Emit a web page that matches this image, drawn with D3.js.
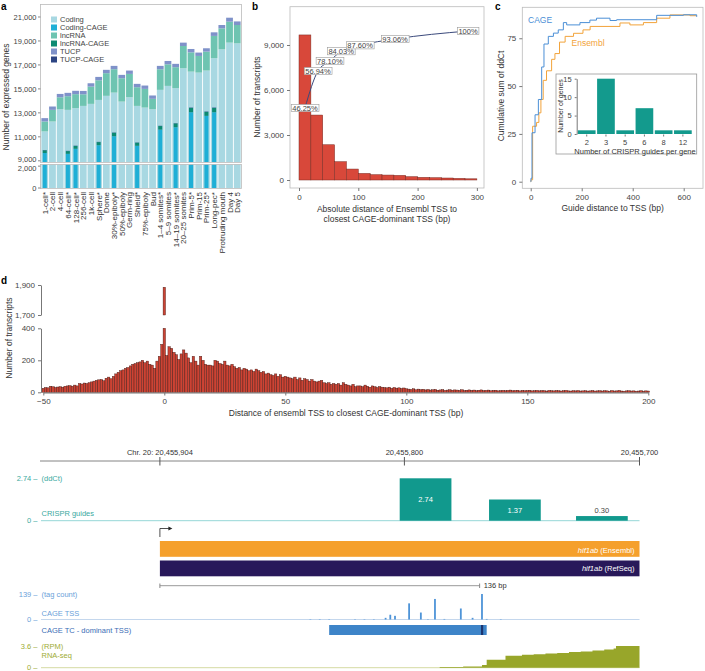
<!DOCTYPE html>
<html>
<head>
<meta charset="utf-8">
<script src="https://cdn.jsdelivr.net/npm/d3@7"></script>
<style>
  body { margin: 0; background: #fff; }
  text { font-family: "Liberation Sans", Arial, sans-serif; }
</style>
</head>
<body>
<svg id="fig" width="705" height="671"></svg>
<script>
// ---- a: expressed genes per stage ----
var stages = ["1-cell*", "2-cell", "4-cell", "64-cell*", "128-cell*", "256-cell", "1k-cell", "Sphere*", "Dome",
  "30%-epiboly*", "50%-epiboly", "Germ-ring", "Shield*", "75%-epiboly", "Bud", "1\u20134 somites*", "5\u20139 somites",
  "14\u201319 somites*", "20\u201325 somites", "Prim-5*", "Prim-15", "Prim-25*", "Long-pec*", "Protruding mouth", "Day 4", "Day 5"];
var coding = [11450, 12280, 13300, 13250, 13390, 13580, 13750, 14080, 14420, 14690, 13940, 14300, 13580, 13440, 13300,
  14920, 15250, 15060, 16720, 16440, 16360, 16530, 17560, 18300, 18860, 18800];
var lncRNA = [830, 970, 1000, 1140, 1170, 970, 1440, 1640, 1890, 1950, 1950, 1950, 1560, 1560, 870,
  1720, 1800, 1750, 1860, 1610, 1390, 1580, 1860, 1750, 1750, 1530];
var tucp = [280, 280, 280, 280, 280, 280, 280, 280, 280, 280, 280, 280, 280, 280, 280,
  280, 280, 280, 280, 280, 280, 280, 300, 280, 330, 300];
var codingCage = [9650, 0, 0, 9580, 10000, 0, 0, 10300, 0, 11050, 0, 0, 10250, 0, 0,
  11600, 0, 11800, 0, 13050, 0, 12750, 13050, 0, 0, 0];
var lncCage = [230, 0, 0, 230, 240, 0, 0, 260, 0, 290, 0, 0, 260, 0, 0,
  300, 0, 320, 0, 360, 0, 330, 360, 0, 0, 0];
var tucpCage = [20, 0, 0, 20, 20, 0, 0, 20, 0, 20, 0, 0, 20, 0, 0,
  20, 0, 20, 0, 30, 0, 30, 30, 0, 0, 0];
var ticksATop = [9000, 11000, 13000, 15000, 17000, 19000, 21000];
var ticksABot = [0, 2000];

// ---- b: distance histogram ----
var binStart = [0, 20, 40, 60, 80, 100, 120, 140, 160, 180, 200, 220, 240, 260, 280];
var binCount = [9670, 4330, 2350, 1220, 730, 440, 355, 330, 310, 222, 178, 155, 133, 111, 80];
var cumBp = [10, 32, 52, 71, 103, 162, 285];
var cumPct = [46.25, 56.94, 78.10, 84.03, 87.60, 93.06, 100];

// ---- c: cumulative ddCt ----
var cageDist = [0, 1, 5, 17, 30, 43, 52, 69, 89, 108, 128, 141, 193, 232, 258, 311, 337, 494, 599, 651];
var cageSum = [0, 1.8, 25.6, 35, 43, 60, 72, 76, 77.7, 79.4, 83.2, 82, 83.2, 84.5, 85.5, 84.3, 84.7, 87, 87.3, 86.2];
var ensDist = [0, 1, 7.5, 23, 32, 40, 49, 62, 82, 95, 113, 135, 168, 205, 233, 350, 389, 442, 494, 546, 625, 651];
var ensSum = [0, 1, 29, 31, 36, 43, 53, 58, 64, 67, 73, 76, 77.6, 79.4, 81.2, 83, 82, 83.2, 85.5, 87.2, 86.8, 86.8];
var guidesPerGene = ["2", "3", "5", "6", "8", "12"];
var genesCount = [1, 15, 1, 7, 1, 1];

// ---- d: signed distance histogram, 1-bp bins from -50 to 200 ----
var distStart = -50;
var distCount = [
  25, 30, 28, 38, 35, 30, 33, 35, 32, 38,
  40, 42, 38, 45, 40, 55, 52, 58, 55, 60,
  65, 70, 75, 78, 80, 72, 88, 95, 85, 100,
  115, 125, 135, 140, 150, 155, 165, 175, 180, 185,
  190, 200, 185, 195, 175, 170, 150, 195, 225, 300,
  1885,
  230, 285, 275, 250, 235, 205, 240, 265, 245, 215,
  185, 225, 195, 170, 225, 200, 175, 170, 170, 165,
  200, 195, 180, 175, 195, 170, 165, 175, 160, 150,
  155, 140, 150, 145, 135, 140, 130, 145, 135, 125,
  130, 115, 120, 110, 105, 115, 100, 110, 95, 100,
  95, 90, 85, 95, 80, 90, 75, 85, 80, 70,
  80, 70, 65, 70, 75, 60, 55, 60, 50, 55,
  50, 55, 45, 60, 50, 45, 40, 50, 35, 40,
  40, 35, 45, 38, 32, 40, 35, 30, 36, 32,
  30, 28, 32, 25, 30, 26, 28, 24, 27, 22,
  20, 18, 22, 16, 20, 17, 19, 15, 18, 14, 16, 18, 13, 15, 17, 12, 14, 16, 13, 15,
  14, 12, 16, 11, 13, 15, 12, 14, 10, 13, 15, 11, 12, 14, 10, 12, 13, 9, 11, 12,
  10, 12, 14, 10, 11, 13, 9, 12, 10, 11, 13, 9, 10, 12, 9, 11, 10, 8, 12, 10,
  9, 11, 10, 8, 10, 12, 9, 8, 10, 9, 11, 8, 9, 10, 8, 9, 11, 8, 9, 10,
  8, 10, 9, 7, 11, 8, 9, 12, 8, 7, 9, 10, 8, 9, 7, 8, 10, 7, 9, 8];

// ---- e: hif1ab locus ----
var coordTicks = [20455904, 20455800, 20455700];
var guideFrom = [20455802, 20455764, 20455727];
var guideTo = [20455780, 20455742, 20455705];
var guideDdct = [2.74, 1.37, 0.30];
var geneFrom = 20455904, geneTo = 20455700;
var spanBp = 136;
var cagePos = [20455840, 20455836, 20455832, 20455821, 20455817, 20455813, 20455808, 20455806, 20455804, 20455798,
  20455793, 20455790, 20455787, 20455783, 20455776, 20455771, 20455767, 20455765, 20455759];
var cageTags = [2, 2, 2, 2, 2, 2, 9, 26, 20, 88, 38, 2, 112, 3, 60, 9, 139, 3, 2];
var tcFrom = 20455832, tcTo = 20455765, dominantTss = 20455767;
var rnaPos = [20455785, 20455775, 20455767, 20455765, 20455757, 20455750, 20455745, 20455740, 20455735, 20455730,
  20455725, 20455720, 20455715, 20455711, 20455710, 20455700];
var rnaRpm = [0.1, 0.2, 0.45, 1.3, 2.0, 2.15, 2.25, 2.35, 2.45, 2.6, 2.7, 2.85, 3.0, 3.2, 3.6, 3.6];

var svg = d3.select("#fig");
var defs = svg.append("defs");
var fmt = d3.format(",");

function clip(id, x, y, w, h) {
  defs.append("clipPath").attr("id", id).append("rect")
    .attr("x", x).attr("y", y).attr("width", w).attr("height", h);
}
function txt(g, x, y, s, size, fill, anchor) {
  return g.append("text").attr("x", x).attr("y", y).attr("font-size", size)
    .attr("fill", fill || "#333").attr("text-anchor", anchor || "start").text(s);
}
function styleAxis(g) {
  g.attr("font-size", 8);
  g.selectAll("text").attr("fill", "#444");
  g.selectAll("line").attr("stroke", "#777");
  g.select(".domain").attr("stroke", "#777");
}

// panel letters
[["a", 1, 10], ["b", 252, 10], ["c", 495, 10], ["d", 1, 284]].forEach(function(l) {
  txt(svg, l[1], l[2], l[0], 10, "#000").attr("font-weight", "bold");
});

// ================= a =================
var ga = svg.append("g");
var xa = d3.scaleBand().domain(stages).range([41, 241]).paddingInner(0.12).paddingOuter(0.05);
var yaTop = d3.scaleLinear().domain([8900, 22000]).range([162, 5]);
var yaBot = d3.scaleLinear().domain([0, 2150]).range([188, 164.5]);
var colA = {coding: "#a8d8e2", codingCage: "#1fafd6", lncRNA: "#6ec4b1", lncCage: "#0c8a72",
  tucp: "#7f92c9", tucpCage: "#2c4483"};

var rowsA = stages.map(function(s, i) {
  return {stage: s, coding: coding[i], lncRNA: lncRNA[i], tucp: tucp[i],
    codingCage: codingCage[i], lncCage: lncCage[i], tucpCage: tucpCage[i]};
});
var stackA = d3.stack().keys(["coding", "lncRNA", "tucp"])(rowsA);
var stackCage = d3.stack().keys(["codingCage", "lncCage", "tucpCage"])(rowsA);

clip("clipATop", 41, 5, 200, 157);
clip("clipABot", 41, 164.5, 200, 23.5);
var bw = xa.bandwidth();

[[yaTop, "clipATop"], [yaBot, "clipABot"]].forEach(function(p) {
  var y = p[0];
  var g = ga.append("g").attr("clip-path", "url(#" + p[1] + ")");
  g.append("g").selectAll("g").data(stackA).enter().append("g")
      .attr("fill", function(d) { return colA[d.key]; })
    .selectAll("rect").data(function(d) { return d; }).enter().append("rect")
      .attr("x", function(d) { return xa(d.data.stage); })
      .attr("width", bw)
      .attr("y", function(d) { return y(d[1]); })
      .attr("height", function(d) { return Math.max(0, y(d[0]) - y(d[1])); });
  g.append("g").selectAll("g").data(stackCage).enter().append("g")
      .attr("fill", function(d) { return colA[d.key]; })
    .selectAll("rect").data(function(d) { return d.filter(function(e) { return e[1] > e[0]; }); }).enter().append("rect")
      .attr("x", function(d) { return xa(d.data.stage) + bw * 0.2; })
      .attr("width", bw * 0.6)
      .attr("y", function(d) { return y(d[1]); })
      .attr("height", function(d) { return Math.max(0, y(d[0]) - y(d[1])); });
});

ga.append("rect").attr("x", 40.5).attr("y", 4.5).attr("width", 201).attr("height", 158)
  .attr("fill", "none").attr("stroke", "#bbb").attr("stroke-width", 0.8);
ga.append("rect").attr("x", 40.5).attr("y", 164.5).attr("width", 201).attr("height", 24)
  .attr("fill", "none").attr("stroke", "#bbb").attr("stroke-width", 0.8);

ticksATop.forEach(function(t) {
  txt(ga, 36.5, yaTop(t) + (t === 9000 ? 1.5 : 3), fmt(t), 7.5, "#444", "end");
  ga.append("line").attr("x1", 38).attr("x2", 40.5).attr("y1", yaTop(t)).attr("y2", yaTop(t)).attr("stroke", "#888");
});
ticksABot.forEach(function(t) {
  txt(ga, 36.5, yaBot(t) + (t === 2000 ? 4.5 : 3), fmt(t), 7.5, "#444", "end");
  ga.append("line").attr("x1", 38).attr("x2", 40.5).attr("y1", yaBot(t)).attr("y2", yaBot(t)).attr("stroke", "#888");
});

stages.forEach(function(s) {
  ga.append("text")
    .attr("transform", "translate(" + (xa(s) + bw / 2 + 3) + ",192) rotate(-90)")
    .attr("text-anchor", "end").attr("font-size", 8).attr("fill", "#333").text(s);
});

ga.append("text").attr("transform", "translate(8.5,97) rotate(-90)")
  .attr("text-anchor", "middle").attr("font-size", 8.5).attr("fill", "#333").text("Number of expressed genes");

var legA = [["Coding", "coding"], ["Coding-CAGE", "codingCage"], ["lncRNA", "lncRNA"],
  ["lncRNA-CAGE", "lncCage"], ["TUCP", "tucp"], ["TUCP-CAGE", "tucpCage"]];
legA.forEach(function(l, i) {
  ga.append("rect").attr("x", 51).attr("y", 16.5 + i * 8).attr("width", 6).attr("height", 6).attr("fill", colA[l[1]]);
  txt(ga, 60, 22 + i * 8, l[0], 7.5, "#444");
});

// ================= b =================
var gb = svg.append("g");
var xb = d3.scaleLinear().domain([-15.2, 312]).range([290, 484]);
var yb = d3.scaleLinear().domain([-533, 11553]).range([188, 6.7]);

gb.append("rect").attr("x", 290).attr("y", 6.7).attr("width", 194).attr("height", 181.3)
  .attr("fill", "none").attr("stroke", "#bbb").attr("stroke-width", 0.8);

gb.selectAll("rect.bin").data(binStart).enter().append("rect")
  .attr("x", function(d) { return xb(d); })
  .attr("width", xb(20) - xb(0))
  .attr("y", function(d, i) { return yb(binCount[i]); })
  .attr("height", function(d, i) { return yb(0) - yb(binCount[i]); })
  .attr("fill", "#d8483a").attr("stroke", "#7a2c24").attr("stroke-width", 0.5);

var axB = gb.append("g").attr("transform", "translate(290,0)")
  .call(d3.axisLeft(yb).tickValues([0, 3000, 6000, 9000]).tickSize(3).tickFormat(fmt));
axB.select(".domain").remove();
styleAxis(axB);
var axB2 = gb.append("g").attr("transform", "translate(0,188)")
  .call(d3.axisBottom(xb).tickValues([0, 100, 200, 300]).tickSize(3));
axB2.select(".domain").remove();
styleAxis(axB2);

gb.append("text").attr("transform", "translate(260,97) rotate(-90)")
  .attr("text-anchor", "middle").attr("font-size", 8.5).attr("fill", "#333").text("Number of transcripts");
txt(gb, 387, 212, "Absolute distance of Ensembl TSS to", 8.5, "#333", "middle");
txt(gb, 387, 222, "closest CAGE-dominant TSS (bp)", 8.5, "#333", "middle");

// cumulative share, on its own (non-linear) right-hand scale
var yPct = d3.scaleLinear().domain([46.25, 56.94, 78.10, 87.60, 100]).range([108, 71, 61, 45.3, 31]);
var cum = cumBp.map(function(b, i) { return {bp: b, pct: cumPct[i]}; });
gb.append("path").datum(cum)
  .attr("d", d3.line().x(function(d) { return xb(d.bp); }).y(function(d) { return yPct(d.pct); }).curve(d3.curveMonotoneX))
  .attr("fill", "none").attr("stroke", "#3b4a7c").attr("stroke-width", 1);
cum.forEach(function(d) {
  var lab = d.pct === 100 ? "100%" : d3.format(".2f")(d.pct) + "%";
  var cy = yPct(d.pct);
  var t = txt(gb, xb(d.bp), cy + 2.6, lab, 7.5, "#444", "middle");
  var bb = t.node().getBBox();
  gb.insert("rect", function() { return t.node(); })
    .attr("x", bb.x - 1).attr("y", cy - 3.6).attr("width", bb.width + 2).attr("height", 7.2)
    .attr("fill", "#fff").attr("stroke", "#999").attr("stroke-width", 0.6);
});

// ================= c =================
var gc = svg.append("g");
var xc = d3.scaleLinear().domain([-33, 675.7]).range([522.3, 703]);
var yc = d3.scaleLinear().domain([-3.45, 91.2]).range([188.3, 7.3]);

gc.append("rect").attr("x", 522.3).attr("y", 7.3).attr("width", 180.7).attr("height", 181)
  .attr("fill", "none").attr("stroke", "#bbb").attr("stroke-width", 0.8);

var stepLine = d3.line().x(function(d) { return xc(d[0]); }).y(function(d) { return yc(d[1]); }).curve(d3.curveStepAfter);
gc.append("path").datum(ensDist.map(function(d, i) { return [d, ensSum[i]]; }))
  .attr("d", stepLine).attr("fill", "none").attr("stroke", "#f2a33a").attr("stroke-width", 1);
gc.append("path").datum(cageDist.map(function(d, i) { return [d, cageSum[i]]; }))
  .attr("d", stepLine).attr("fill", "none").attr("stroke", "#4b8fd6").attr("stroke-width", 1);
txt(gc, 528, 23, "CAGE", 8.5, "#4b8fd6");
txt(gc, 571.5, 46, "Ensembl", 8.5, "#f2a33a");

var axC = gc.append("g").attr("transform", "translate(522.3,0)")
  .call(d3.axisLeft(yc).tickValues([0, 25, 50, 75]).tickSize(3));
axC.select(".domain").remove();
styleAxis(axC);
var axC2 = gc.append("g").attr("transform", "translate(0,188.3)")
  .call(d3.axisBottom(xc).tickValues([0, 200, 400, 600]).tickSize(3));
axC2.select(".domain").remove();
styleAxis(axC2);
gc.append("text").attr("transform", "translate(503.5,96) rotate(-90)")
  .attr("text-anchor", "middle").attr("font-size", 8.5).attr("fill", "#333").text("Cumulative sum of ddCt");
txt(gc, 612.7, 211, "Guide distance to TSS (bp)", 8.5, "#333", "middle");

// inset
gc.append("rect").attr("x", 556).attr("y", 74).attr("width", 140.7).attr("height", 80)
  .attr("fill", "#fff").attr("stroke", "#999").attr("stroke-width", 0.8);
var xi = d3.scaleBand().domain(guidesPerGene).range([577.3, 692.3]).paddingInner(0.08).paddingOuter(0.03);
var yi = d3.scaleLinear().domain([0, 15]).range([134, 78.7]);
gc.selectAll("rect.inb").data(guidesPerGene).enter().append("rect")
  .attr("x", function(d) { return xi(d); }).attr("width", xi.bandwidth())
  .attr("y", function(d, i) { return yi(genesCount[i]); })
  .attr("height", function(d, i) { return yi(0) - yi(genesCount[i]); })
  .attr("fill", "#139a8d");
var axI = gc.append("g").attr("transform", "translate(576.7,0)")
  .call(d3.axisLeft(yi).tickValues([0, 5, 10, 15]).tickSize(2).tickSizeOuter(0));
styleAxis(axI);
axI.attr("font-size", 7.5);
var axI2 = gc.append("g").attr("transform", "translate(0,134.5)")
  .call(d3.axisBottom(xi).tickSize(2).tickSizeOuter(0));
axI2.select(".domain").remove();
styleAxis(axI2);
axI2.attr("font-size", 7.5);
gc.append("text").attr("transform", "translate(562.5,106) rotate(-90)")
  .attr("text-anchor", "middle").attr("font-size", 7).attr("fill", "#333").text("Number of genes");
txt(gc, 635, 153.5, "Number of CRISPR guides per gene", 7.5, "#333", "middle");

// ================= d =================
var gd = svg.append("g");
var xd = d3.scaleLinear().domain([-50, 200]).range([43.3, 648.3]);
var ydLow = d3.scaleLinear().domain([0, 400]).range([392.3, 328.3]);
var ydUp = d3.scaleLinear().domain([1700, 1900]).range([315, 285]);
var rowsD = distCount.map(function(c, i) { return {d: distStart + i, n: c}; });
var bwd = xd(1) - xd(0);

gd.selectAll("rect.lo").data(rowsD).enter().append("rect")
  .attr("x", function(r) { return xd(r.d - 0.5); }).attr("width", bwd)
  .attr("y", function(r) { return ydLow(Math.min(r.n, 400)); })
  .attr("height", function(r) { return ydLow(0) - ydLow(Math.min(r.n, 400)); })
  .attr("fill", "#cc4334").attr("stroke", "#3f1511").attr("stroke-width", 0.4);
gd.selectAll("rect.hi").data(rowsD.filter(function(r) { return r.n > 1700; })).enter().append("rect")
  .attr("x", function(r) { return xd(r.d - 0.5); }).attr("width", bwd)
  .attr("y", function(r) { return ydUp(Math.min(r.n, 1900)); })
  .attr("height", function(r) { return ydUp(1700) - ydUp(Math.min(r.n, 1900)); })
  .attr("fill", "#cc4334").attr("stroke", "#3f1511").attr("stroke-width", 0.4);

var axD1 = gd.append("g").attr("transform", "translate(41,0)")
  .call(d3.axisLeft(ydLow).tickValues([0, 200, 400]).tickSize(3).tickSizeOuter(0));
styleAxis(axD1);
var axD2 = gd.append("g").attr("transform", "translate(41,0)")
  .call(d3.axisLeft(ydUp).tickValues([1700, 1900]).tickSize(3).tickSizeOuter(0).tickFormat(fmt));
styleAxis(axD2);
var axD3 = gd.append("g").attr("transform", "translate(0,392.5)")
  .call(d3.axisBottom(xd).tickValues([-50, 0, 50, 100, 150, 200]).tickSize(3).tickSizeOuter(0));
styleAxis(axD3);
gd.append("text").attr("transform", "translate(12,338) rotate(-90)")
  .attr("text-anchor", "middle").attr("font-size", 8.5).attr("fill", "#333").text("Number of transcripts");
txt(gd, 346, 415.5, "Distance of ensembl TSS to closest CAGE-dominant TSS (bp)", 8.5, "#333", "middle");

// ================= e =================
var ge = svg.append("g");
var xe = d3.scaleLinear().domain([20455955, 20455700]).range([40, 639.5]);
ge.append("line").attr("x1", xe.range()[0]).attr("x2", xe.range()[1]).attr("y1", 461).attr("y2", 461)
  .attr("stroke", "#666").attr("stroke-width", 0.8);
coordTicks.forEach(function(t, i) {
  ge.append("line").attr("x1", xe(t)).attr("x2", xe(t)).attr("y1", 457).attr("y2", 465.5).attr("stroke", "#555");
  txt(ge, xe(t), 454.5, (i === 0 ? "Chr. 20: " : "") + fmt(t), 7.5, "#333", "middle");
});

// CRISPR guides
var ycr = d3.scaleLinear().domain([0, 2.74]).range([520.7, 478.3]);
txt(ge, 37.5, ycr(2.74) + 2.5, "2.74 \u2013", 7.5, "#3aa9a0", "end");
txt(ge, 37.5, ycr(0) + 2.5, "0 \u2013", 7.5, "#3aa9a0", "end");
txt(ge, 41.5, ycr(2.74) + 2.5, "(ddCt)", 7.5, "#3aa9a0");
txt(ge, 41.5, 515.5, "CRISPR guides", 7.5, "#3aa9a0");
ge.append("line").attr("x1", 41).attr("x2", 639.5).attr("y1", ycr(0)).attr("y2", ycr(0))
  .attr("stroke", "#78cccc").attr("stroke-width", 0.8);
guideDdct.forEach(function(v, i) {
  var x0 = xe(guideFrom[i]), x1 = xe(guideTo[i]);
  ge.append("rect").attr("x", x0).attr("width", x1 - x0).attr("y", ycr(v)).attr("height", ycr(0) - ycr(v))
    .attr("fill", "#11998d");
  var inside = (ycr(0) - ycr(v)) > 12;
  txt(ge, (x0 + x1) / 2, inside ? (ycr(v) + ycr(0)) / 2 + 2.5 : ycr(v) - 3, d3.format(".2f")(v), 7.5,
    inside ? "#fff" : "#444", "middle");
});

// TSS arrow
var xt = xe(geneFrom);
ge.append("path").attr("d", "M" + xt + ",537V528.5H" + (xt + 9))
  .attr("fill", "none").attr("stroke", "#222").attr("stroke-width", 0.8);
ge.append("path").attr("d", "M" + (xt + 12.5) + ",528.5L" + (xt + 8.5) + ",526.5L" + (xt + 8.5) + ",530.5Z").attr("fill", "#222");

// transcripts
[["Ensembl", "#f5a02c", 541, 553], ["RefSeq", "#28185a", 560.5, 570.5]].forEach(function(tr) {
  ge.append("rect").attr("x", xe(geneFrom)).attr("width", xe(geneTo) - xe(geneFrom))
    .attr("y", tr[2]).attr("height", 15.8).attr("fill", tr[1]);
  var t = ge.append("text").attr("x", xe(geneTo) - 5).attr("y", tr[3]).attr("font-size", 7.5)
    .attr("fill", "#fff").attr("text-anchor", "end");
  t.append("tspan").attr("font-style", "italic").text("hif1ab");
  t.append("tspan").text(" (" + tr[0] + ")");
});

// 136 bp span from annotated TSS to CAGE-dominant TSS
var xs0 = xe(geneFrom), xs1 = xe(geneFrom - spanBp);
ge.append("line").attr("x1", xs0).attr("x2", xs1).attr("y1", 585.7).attr("y2", 585.7).attr("stroke", "#999").attr("stroke-width", 1);
[xs0, xs1].forEach(function(x) {
  ge.append("line").attr("x1", x).attr("x2", x).attr("y1", 583.5).attr("y2", 588).attr("stroke", "#888");
});
txt(ge, xs1 + 4, 588.3, spanBp + " bp", 7.5, "#333");

// CAGE TSS
var ycg = d3.scaleLinear().domain([0, 139]).range([619.5, 594]);
var cgCol = "#6a9fd9";
txt(ge, 37.5, ycg(139) + 2.5, "139 \u2013", 7.5, cgCol, "end");
txt(ge, 37.5, ycg(0) + 2.5, "0 \u2013", 7.5, cgCol, "end");
txt(ge, 41.5, ycg(139) + 2.5, "(tag count)", 7.5, cgCol);
txt(ge, 41.5, 616, "CAGE TSS", 7.5, cgCol);
ge.append("line").attr("x1", 41).attr("x2", 639.5).attr("y1", ycg(0)).attr("y2", ycg(0))
  .attr("stroke", "#b5cde9").attr("stroke-width", 0.8);
ge.selectAll("rect.tag").data(cagePos).enter().append("rect")
  .attr("x", function(p) { return xe(p) - 0.9; }).attr("width", 1.8)
  .attr("y", function(p, i) { return ycg(cageTags[i]); })
  .attr("height", function(p, i) { return ycg(0) - ycg(cageTags[i]); })
  .attr("fill", "#4e94d8");

// CAGE TC
ge.append("rect").attr("x", xe(tcFrom)).attr("width", xe(tcTo) - xe(tcFrom)).attr("y", 625).attr("height", 10)
  .attr("fill", "#3d84c8");
ge.append("rect").attr("x", xe(dominantTss) - 1).attr("width", 2.2).attr("y", 625).attr("height", 10)
  .attr("fill", "#1b3570");
txt(ge, 41.5, 632.5, "CAGE TC - dominant TSS)", 7.5, "#3a6db5");

// RNA-seq
var yr = d3.scaleLinear().domain([0, 3.6]).range([667.7, 646]);
var rCol = "#9eac34";
txt(ge, 37.5, yr(3.6) + 2.5, "3.6 \u2013", 7.5, rCol, "end");
txt(ge, 37.5, yr(0) + 2.5, "0 \u2013", 7.5, rCol, "end");
txt(ge, 41.5, yr(3.6) + 2.5, "(RPM)", 7.5, rCol);
txt(ge, 41.5, 658, "RNA-seq", 7.5, rCol);
ge.append("line").attr("x1", 41).attr("x2", 639.5).attr("y1", yr(0)).attr("y2", yr(0))
  .attr("stroke", "#c9cf8a").attr("stroke-width", 0.8);
ge.append("path").datum(rnaPos.map(function(p, i) { return [p, rnaRpm[i]]; }))
  .attr("d", d3.area().x(function(d) { return xe(d[0]); }).y0(yr(0)).y1(function(d) { return yr(d[1]); })
    .curve(d3.curveStepAfter))
  .attr("fill", "#98a62a");
</script>
</body>
</html>
